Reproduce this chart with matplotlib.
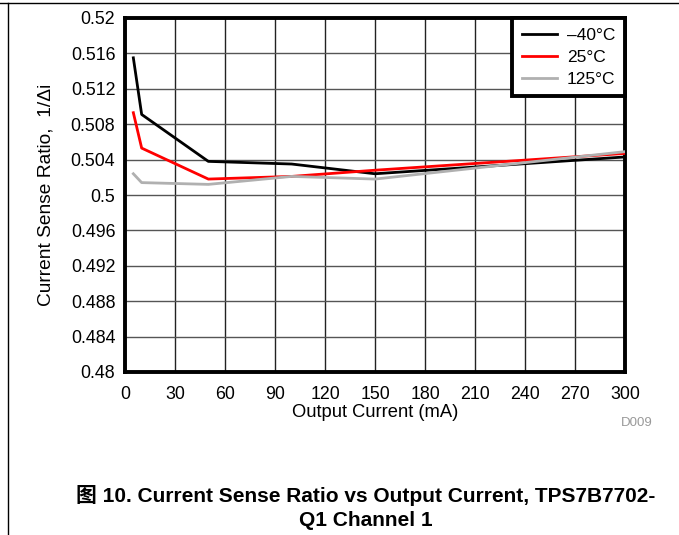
import numpy as np
import matplotlib

matplotlib.use("Agg")
import matplotlib.pyplot as plt
from matplotlib.lines import Line2D

plt.rcParams["font.family"] = ["Liberation Sans", "Noto Sans CJK SC", "DejaVu Sans"]

# data (output current in mA, ratio 1/delta-i)
current = [5, 10, 50, 100, 150, 300]
ratio_m40 = [0.5155, 0.5091, 0.5038, 0.5035, 0.5024, 0.5043]
ratio_25 = [0.5093, 0.5053, 0.5018, 0.5021, 0.5028, 0.5047]
ratio_125 = [0.5024, 0.5014, 0.5012, 0.5021, 0.5018, 0.5049]
labels = ["\u201340\u00b0C", "25\u00b0C", "125\u00b0C"]
colors = ["black", "#ff0000", "#b0b0b0"]
xticks = list(range(0, 301, 30))
yticks = [0.48, 0.484, 0.488, 0.492, 0.496, 0.5, 0.504, 0.508, 0.512, 0.516, 0.52]
ytick_labels = ["0.48", "0.484", "0.488", "0.492", "0.496", "0.5", "0.504",
                "0.508", "0.512", "0.516", "0.52"]

fig = plt.figure(figsize=(6.79, 5.35), dpi=100)
ax = fig.add_axes([125 / 679, 1 - 372 / 535, 500 / 679, 354 / 535])

for ys, col, lab in zip([ratio_m40, ratio_25, ratio_125], colors, labels):
    ax.plot(current, ys, color=col, lw=2, label=lab, zorder=3)

ax.set_xlim(0, 300)
ax.set_ylim(0.48, 0.52)
ax.set_xticks(xticks)
ax.set_yticks(yticks)
ax.set_yticklabels(ytick_labels)
ax.tick_params(length=0, labelsize=12.8)
ax.tick_params(axis="x", pad=10)
ax.tick_params(axis="y", pad=7)
ax.grid(axis="x", color="#222222", lw=1)
ax.grid(axis="y", color="#555555", lw=1)
for sp in ax.spines.values():
    sp.set_linewidth(2.8)
ax.set_xlabel("Output Current (mA)", fontsize=13.2, labelpad=1)
ax.set_ylabel("Current Sense Ratio,  1/\u0394i", fontsize=13.8)
ax.yaxis.set_label_coords(-71 / 500, 0.5)

leg = ax.legend(loc="upper right", fontsize=12.5, fancybox=False, framealpha=1,
                edgecolor="black", borderaxespad=0, handlelength=2.0,
                handletextpad=0.6, borderpad=0.55, labelspacing=0.4)
leg.get_frame().set_linewidth(2.8)

fig.text(637 / 679, 1 - 423 / 535, "D009", color="#999999", fontsize=9.5,
         ha="center", va="center")
fig.text(366 / 679, 1 - 495 / 535,
         "\u56fe 10. Current Sense Ratio vs Output Current, TPS7B7702-",
         fontsize=15, fontweight="bold", ha="center", va="center")
fig.text(366 / 679, 1 - 520 / 535, "Q1 Channel 1",
         fontsize=15, fontweight="bold", ha="center", va="center")

# page frame lines
fig.add_artist(Line2D([0, 1], [1 - 3 / 535] * 2, color="black", lw=1))
fig.add_artist(Line2D([8 / 679] * 2, [0, 1 - 3 / 535], color="black", lw=1))

fig.savefig("out.png", dpi=100)
